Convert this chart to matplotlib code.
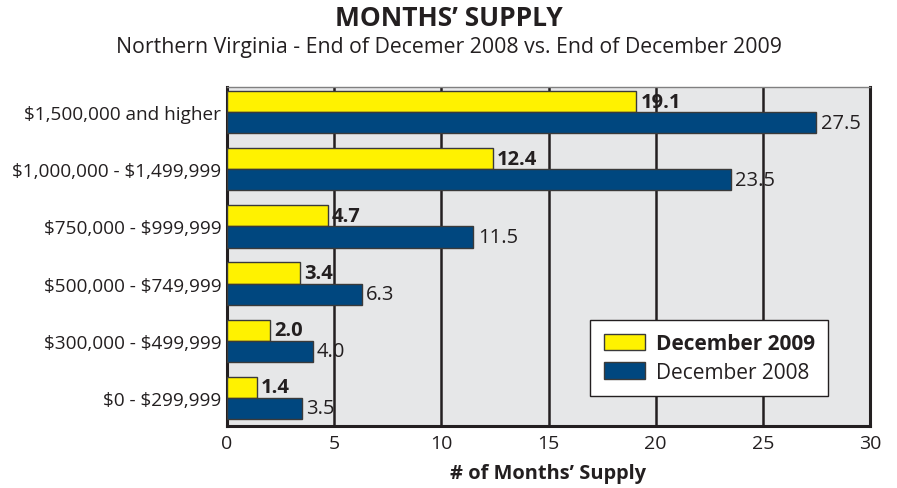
import numpy as np
import matplotlib.pyplot as plt
import matplotlib as mpl

plt.rcParams['font.family'] = ['Open Sans', 'DejaVu Sans']
plt.rcParams['text.parse_math'] = False

categories = ['$0 - $299,999', '$300,000 - $499,999', '$500,000 - $749,999',
              '$750,000 - $999,999', '$1,000,000 - $1,499,999', '$1,500,000 and higher']
dec2009 = [1.4, 2.0, 3.4, 4.7, 12.4, 19.1]
dec2008 = [3.5, 4.0, 6.3, 11.5, 23.5, 27.5]

yellow = '#FFF200'
blue = '#00477F'
edge = '#3a3a3a'
ink = '#231f20'

fig = plt.figure(figsize=(8.97, 4.89), dpi=100)
ax = fig.add_axes([0.253, 0.127, 0.717, 0.693])
ax.set_facecolor('#E6E7E8')

y = np.arange(len(categories))
h = 0.37
ax.barh(y + h / 2, dec2009, height=h, color=yellow, edgecolor=edge, linewidth=1, zorder=3,
        label='December 2009')
ax.barh(y - h / 2, dec2008, height=h, color=blue, edgecolor=edge, linewidth=1, zorder=3,
        label='December 2008')

for yi, v in zip(y, dec2009):
    ax.text(v + 0.2, yi + h / 2, f'{v:.1f}', va='center', ha='left', fontsize=14.5,
            fontweight='bold', color=ink, zorder=4)
for yi, v in zip(y, dec2008):
    ax.text(v + 0.2, yi - h / 2, f'{v:.1f}', va='center', ha='left', fontsize=14.5,
            color=ink, zorder=4)

ax.set_xlim(0, 30)
ax.set_ylim(-0.49, 5.44)
ax.set_xticks(range(0, 31, 5))
ax.set_yticks(y)
ax.set_yticklabels(categories)
ax.tick_params(axis='both', length=0, labelsize=13.7, colors=ink)
ax.tick_params(axis='y', pad=4)
ax.tick_params(axis='x', pad=6, labelsize=14)
for xv in range(5, 30, 5):
    ax.axvline(xv, color=ink, linewidth=1.8, zorder=1)

for s in ['left', 'bottom', 'right']:
    ax.spines[s].set_linewidth(2.2)
    ax.spines[s].set_color(ink)
ax.spines['top'].set_linewidth(1)
ax.spines['top'].set_color('#808080')

ax.set_xlabel('# of Months\u2019 Supply', fontsize=14.4, fontweight='bold', labelpad=8,
              color=ink)

handles, labels = ax.get_legend_handles_labels()
leg = ax.legend(handles, labels, loc='lower right', bbox_to_anchor=(0.935, 0.088),
                fontsize=15, frameon=True, fancybox=False, edgecolor=ink,
                framealpha=1, handlelength=2.0, handleheight=0.87, borderpad=0.65,
                labelspacing=0.35, handletextpad=0.5, borderaxespad=0)
leg.get_frame().set_linewidth(1)
leg.get_texts()[0].set_fontweight('bold')
for t in leg.get_texts():
    t.set_color(ink)

fig.text(0.5, 0.962, 'MONTHS\u2019 SUPPLY', ha='center', va='center', fontsize=19,
         fontweight='bold', color=ink)
fig.text(0.5, 0.902, 'Northern Virginia - End of Decemer 2008 vs. End of December 2009',
         ha='center', va='center', fontsize=15.3, color=ink)

plt.savefig('out.png', dpi=100)
